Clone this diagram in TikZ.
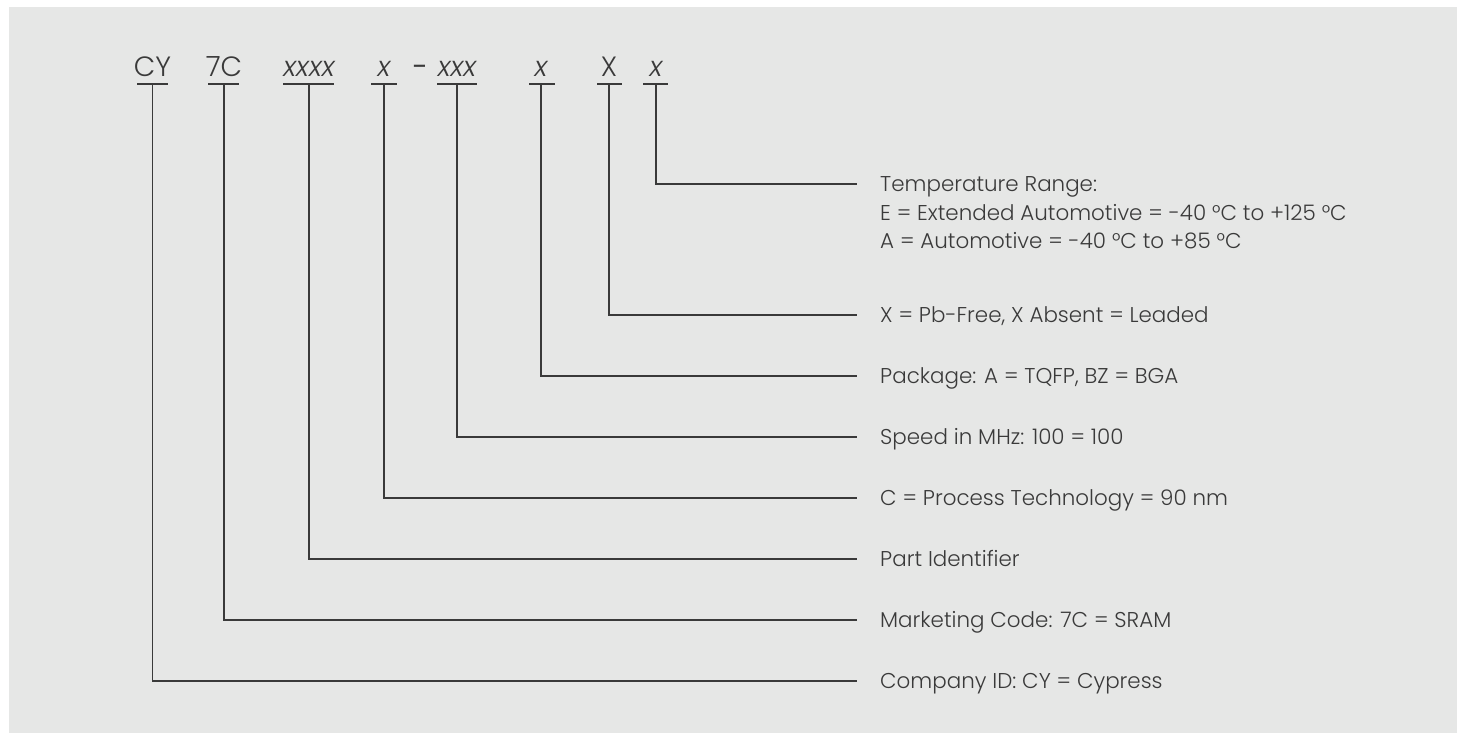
\documentclass[tikz,border=0pt]{standalone}
\usepackage{fontspec}
\setmainfont{Poppins}[UprightFont=* Light, ItalicFont=* Light Italic]
\newfontfamily\dashfont{Poppins}
\definecolor{bggrey}{HTML}{E6E7E6}
\definecolor{ink}{HTML}{3A3A3A}
\begin{document}
\begin{tikzpicture}[x=1bp,y=-1bp,
  hdr/.style={anchor=base, inner sep=0pt, text=ink, font=\fontsize{28}{32}\selectfont},
  lbl/.style={anchor=base west, inner sep=0pt, text=ink, font=\fontsize{21.5}{26}\selectfont},
  uline/.style={draw=ink, line width=2.5bp},
  conn/.style={draw=ink, line width=1.6bp}]
\useasboundingbox (0,0) rectangle (1457,733);
\fill[white] (0,0) rectangle (1457,733);
\fill[bggrey] (9,7) rectangle (1457,733);
% header
\node[hdr] (hcy) at (152.5,77) {CY};
\node[hdr] (h7c) at (224,77) {7C};
\node[hdr] (hpart) at (309,77) {\itshape xxxx};
\node[hdr] (hproc) at (384,77) {\itshape x};
\node[hdr] (hdash) at (420,77) {\dashfont -};
\node[hdr] (hspeed) at (457,77) {\itshape xxx};
\node[hdr] (hpkg) at (541,77) {\itshape x};
\node[hdr] (hpb) at (609,77) {X};
\node[hdr] (htemp) at (656,77) {\itshape x};
% underlines
\draw[uline] (137,84) -- (168,84);
\draw[uline] (208,84) -- (239,84);
\draw[uline] (283,84) -- (334,84);
\draw[uline] (371,84) -- (397,84);
\draw[uline] (437,84) -- (477,84);
\draw[uline] (529,84) -- (555,84);
\draw[uline] (597,84) -- (622,84);
\draw[uline] (643,84) -- (668,84);
\coordinate (ucy) at (152.5,84);
\coordinate (u7c) at (224,84);
\coordinate (upart) at (309,84);
\coordinate (uproc) at (384,84);
\coordinate (uspeed) at (457,84);
\coordinate (upkg) at (541,84);
\coordinate (upb) at (609,84);
\coordinate (utemp) at (656,84);
% line ends
\coordinate (etemp) at (857,184);
\coordinate (epb) at (857,315);
\coordinate (epkg) at (857,376);
\coordinate (espeed) at (857,437);
\coordinate (eproc) at (857,498);
\coordinate (epart) at (857,559);
\coordinate (e7c) at (857,620);
\coordinate (ecy) at (857,681);
% labels
\node[lbl] (ltemp1) at (880,191.5) {Temperature Range:};
\node[lbl] (ltemp2) at (880,220) {E = Extended Automotive = -40 °C to +125 °C};
\node[lbl] (ltemp3) at (880,248.5) {A = Automotive = -40 °C to +85 °C};
\node[lbl] (lpb) at (880,322.5) {X = Pb-Free, X Absent = Leaded};
\node[lbl] (lpkg) at (880,383.5) {Package: A = TQFP, BZ = BGA};
\node[lbl] (lspeed) at (880,444.5) {Speed in MHz: 100 = 100};
\node[lbl] (lproc) at (880,505.5) {C = Process Technology = 90 nm};
\node[lbl] (lpart) at (880,566.5) {Part Identifier};
\node[lbl] (l7c) at (880,627.5) {Marketing Code: 7C = SRAM};
\node[lbl] (lcy) at (880,688.5) {Company ID: CY = Cypress};
% connectors
\draw[conn] (utemp) |- (etemp);
\draw[conn] (upb) |- (epb);
\draw[conn] (upkg) |- (epkg);
\draw[conn] (uspeed) |- (espeed);
\draw[conn] (uproc) |- (eproc);
\draw[conn] (upart) |- (epart);
\draw[conn] (u7c) |- (e7c);
\draw[conn] (ucy) |- (ecy);
\end{tikzpicture}
\end{document}
